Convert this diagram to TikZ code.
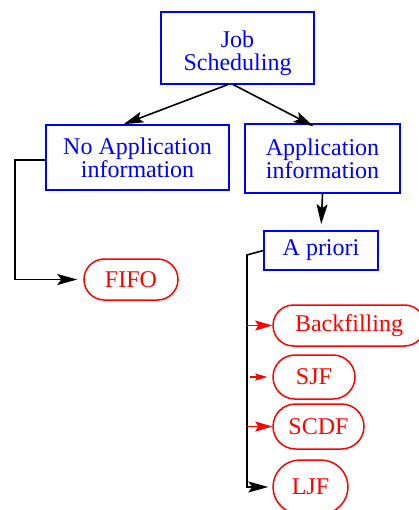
\documentclass[tikz,border=0pt]{standalone}
\usepackage{fontspec}
\setmainfont{Liberation Serif}
\usetikzlibrary{arrows.meta,shapes.misc}
\begin{document}
\begin{tikzpicture}[x=1pt, y=-1pt,
  every node/.style={font=\fontsize{24}{23}\selectfont, align=center, inner sep=0pt},
  blkbox/.style={draw=blue, text=blue, line width=1.5pt, rectangle},
  algo/.style={draw=red, text=red, line width=1.5pt, rounded rectangle},
  conn/.style={line width=1.6pt, -{Stealth[length=20pt, width=11pt, inset=4pt]}},
  redconn/.style={red, line width=1.6pt, -{Stealth[length=17pt, width=10pt, inset=3pt]}}]
  \useasboundingbox (0,0) rectangle (419,510);
  % category boxes
  \node[blkbox, minimum width=153pt, minimum height=72pt, text height=51pt] (job) at (237.5,48) {Job\\Scheduling};
  \node[blkbox, minimum width=183pt, minimum height=65pt] (noapp) at (137.5,157.5) {No Application\\information};
  \node[blkbox, minimum width=155pt, minimum height=69pt] (app) at (322.5,158.5) {Application\\information};
  \node[blkbox, minimum width=114pt, minimum height=39pt] (apriori) at (321,250.5) {A priori};
  % algorithms
  \node[algo, minimum width=94pt, minimum height=41pt] (fifo) at (131,279.5) {FIFO};
  \node[algo, minimum width=152pt, minimum height=41pt] (backfill) at (349,325.5) {Backfilling};
  \node[algo, minimum width=82pt, minimum height=44pt] (sjf) at (314,377) {SJF};
  \node[algo, minimum width=91pt, minimum height=45pt] (scdf) at (318.5,426.5) {SCDF};
  \node[algo, minimum width=75pt, minimum height=54pt] (ljf) at (310.5,487) {LJF};
  % connectors
  \draw[conn] ([xshift=-10pt]job.south) -- ([xshift=-14pt]noapp.north);
  \draw[conn] ([xshift=-4pt]job.south) -- ([xshift=-9pt, yshift=-3pt]app.north);
  \draw[conn, shorten >=6pt] (app.south) -- (apriori.north);
  \coordinate (lbend) at (15,279.5);
  \draw[conn, shorten >=6pt] ([yshift=-2.5pt]noapp.west) -| (lbend) -- (fifo.west);
  \coordinate (rtop) at (247,255);
  \coordinate (rbot) at (247,487);
  \draw[conn, shorten >=4pt] (apriori.west) -- (rtop) -- (rbot) -- (ljf.west);
  \draw[redconn] (rbot |- backfill.west) -- (backfill.west);
  \draw[redconn, shorten >=5pt, -{Stealth[length=12pt, width=7pt, inset=2pt]}] ([xshift=3pt]rbot |- sjf.west) -- (sjf.west);
  \draw[redconn] (rbot |- scdf.west) -- (scdf.west);
\end{tikzpicture}
\end{document}
